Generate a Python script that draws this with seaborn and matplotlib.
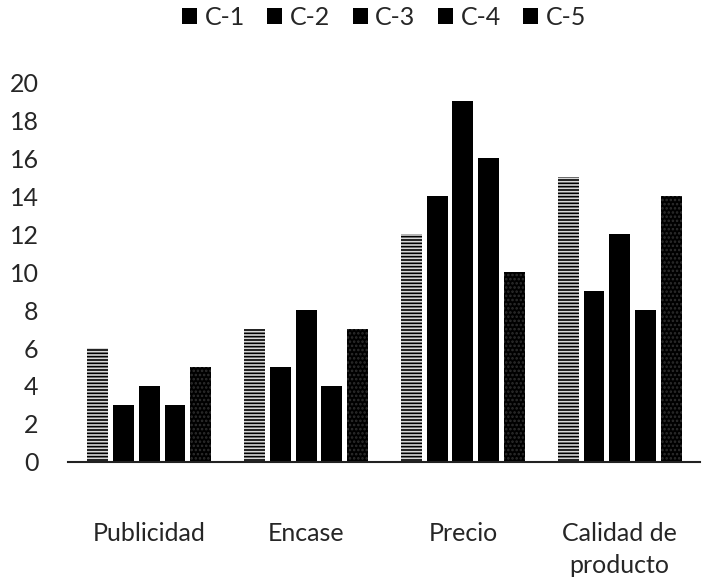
import matplotlib
matplotlib.use("Agg")
import matplotlib.pyplot as plt
import seaborn as sns
import pandas as pd

categories = ["Publicidad", "Encase", "Precio", "Calidad de\nproducto"]
series = ["C-1", "C-2", "C-3", "C-4", "C-5"]
c1 = [6, 7, 12, 15]
c2 = [3, 5, 14, 9]
c3 = [4, 8, 19, 12]
c4 = [3, 4, 16, 8]
c5 = [5, 7, 10, 14]
yticks = [0, 2, 4, 6, 8, 10, 12, 14, 16, 18, 20]

rows = []
for name, vals in zip(series, [c1, c2, c3, c4, c5]):
    for cat, v in zip(categories, vals):
        rows.append({"categoria": cat, "serie": name, "valor": v})
df = pd.DataFrame(rows)

sns.set_theme(style="white")
plt.rcParams["font.family"] = ["Lato", "DejaVu Sans"]
plt.rcParams["hatch.linewidth"] = 1.2

FS = 18

fig = plt.figure(figsize=(7.06, 5.78), dpi=100)
ax = fig.add_axes([0.096, 0.2007, 0.895, 0.6574])

sns.barplot(data=df, x="categoria", y="valor", hue="serie", order=categories,
            hue_order=series, palette=["#000000"] * 5, width=0.82, gap=0.19,
            saturation=1, ax=ax, linewidth=0, legend=True)

# Patterned fills for the first and last series
hatches = ["-----", None, None, None, "...."]
hatch_colors = ["#d8d8d8", None, None, None, "#2e2e2e"]
for cont, h, hc in zip(ax.containers, hatches, hatch_colors):
    for bar in cont:
        if h:
            bar.set_hatch(h)
            bar.set_edgecolor(hc)
            bar.set_linewidth(0)

ax.set_ylim(0, 20)
ax.set_xlim(-0.52, 3.51)
ax.set_yticks(yticks)
ax.set_yticklabels([str(t) for t in yticks], fontsize=FS)
ax.set_xlabel("")
ax.set_ylabel("")
ax.tick_params(axis="x", length=0, pad=43, labelsize=FS)
ax.tick_params(axis="y", length=0, pad=21)
for lbl in ax.get_xticklabels():
    lbl.set_linespacing(1.5)
for s in ["top", "right", "left"]:
    ax.spines[s].set_visible(False)
ax.spines["bottom"].set_color("#222222")
ax.spines["bottom"].set_linewidth(1.5)

handles, labels = ax.get_legend_handles_labels()
ax.get_legend().remove()
fig.legend(handles, labels, loc="center", bbox_to_anchor=(0.544, 0.970), ncol=5,
           frameon=False, fontsize=FS, handlelength=0.6, handleheight=0.6,
           handletextpad=0.3, columnspacing=0.9)

fig.savefig("out.png", dpi=100)
